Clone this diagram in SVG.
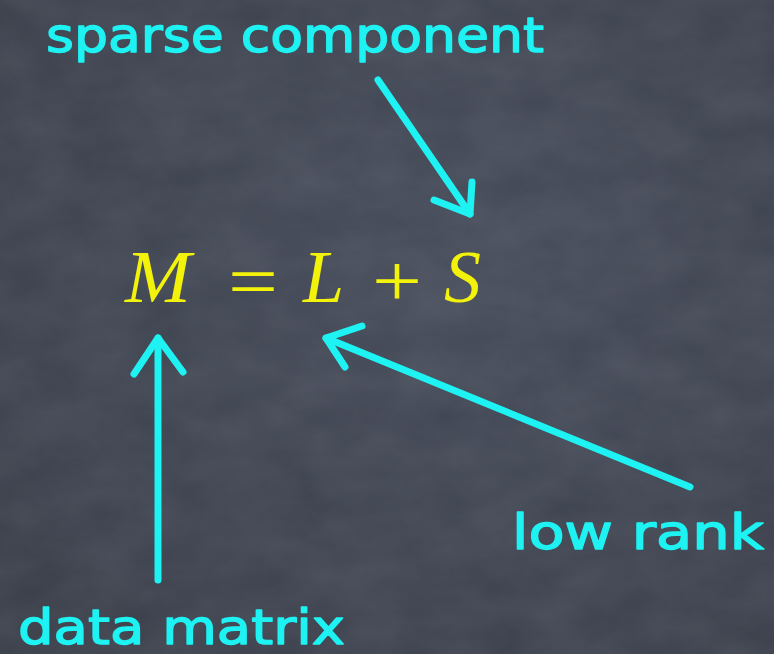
<svg xmlns="http://www.w3.org/2000/svg" width="774" height="654" viewBox="0 0 774 654">
<defs>
<filter id="noise" x="0" y="0" width="100%" height="100%">
<feTurbulence type="fractalNoise" baseFrequency="0.015 0.025" numOctaves="4" seed="7" result="n"/>
<feColorMatrix type="matrix" values="0 0 0 0 0.6  0 0 0 0 0.63  0 0 0 0 0.7  0 0 0 0.12 0" in="n"/>
</filter>
<radialGradient id="bg" cx="0.6" cy="0.4" r="0.8">
<stop offset="0" stop-color="#444a58"/>
<stop offset="1" stop-color="#383d48"/>
</radialGradient>
</defs>
<style>
.chalk{fill:#1ef2f2;stroke:#1ef2f2;stroke-width:1.4;stroke-linejoin:round;font-family:"DejaVu Sans","Liberation Sans",sans-serif;font-size:48px}
.math{fill:#f2f20a;font-family:"Liberation Serif","DejaVu Serif",serif;font-size:74px}
.it{font-style:italic}
.arrow{fill:none;stroke:#1ef2f2;stroke-width:7;stroke-linecap:round;stroke-linejoin:round}
</style>
<rect width="774" height="654" fill="url(#bg)"/>
<rect width="774" height="654" filter="url(#noise)"/>

<g id="label-sparse-component">
<text class="chalk" x="46" y="52" textLength="498" lengthAdjust="spacingAndGlyphs">sparse component</text>
</g>

<g id="equation">
<text class="math it" x="125" y="302" textLength="66" lengthAdjust="spacingAndGlyphs">M</text>
<text class="math" x="228" y="306" textLength="50" lengthAdjust="spacingAndGlyphs">=</text>
<text class="math it" x="303" y="302">L</text>
<text class="math" x="372" y="306" textLength="50" lengthAdjust="spacingAndGlyphs">+</text>
<text class="math it" x="444" y="302">S</text>
</g>

<g id="label-low-rank">
<text class="chalk" x="512" y="549" textLength="252" lengthAdjust="spacingAndGlyphs">low rank</text>
</g>

<g id="label-data-matrix">
<text class="chalk" x="18" y="644" textLength="327" lengthAdjust="spacingAndGlyphs">data matrix</text>
</g>

<g id="connectors">
<path class="arrow" d="M378 80 L470 214"/>
<path class="arrow" d="M434 200 L470 214 L472 182"/>
<path class="arrow" d="M158 580 L158 338"/>
<path class="arrow" d="M134 374 L158 338 L183 372"/>
<path class="arrow" d="M690 487 L326 338"/>
<path class="arrow" d="M362 326 L326 338 L345 367"/>
</g>
</svg>
